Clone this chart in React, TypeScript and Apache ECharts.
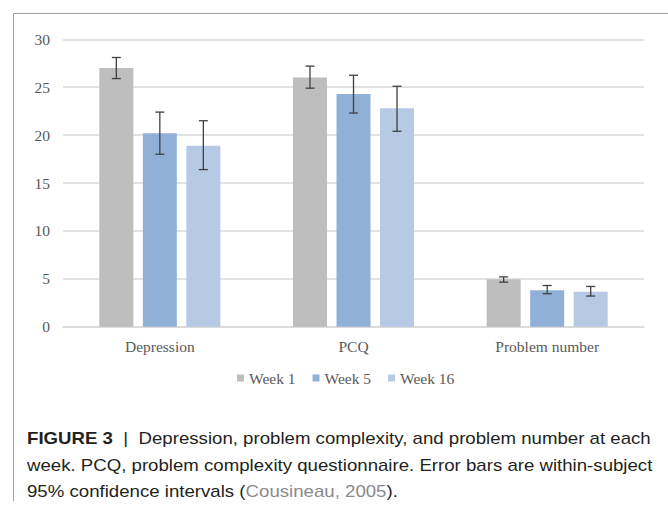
import React, { useEffect, useRef } from "react";
import * as echarts from "echarts";

const categories = ["Depression", "PCQ", "Problem number"];
const seriesNames = ["Week 1", "Week 5", "Week 16"];
const week1 = [27.0, 26.0, 4.95];
const week5 = [20.2, 24.3, 3.8];
const week16 = [18.9, 22.8, 3.65];
const week1Low = [25.9, 24.9, 4.65];
const week1High = [28.1, 27.2, 5.2];
const week5Low = [18.0, 22.3, 3.45];
const week5High = [22.4, 26.25, 4.3];
const week16Low = [16.4, 20.4, 3.2];
const week16High = [21.5, 25.1, 4.2];
const yTicks = { min: 0, max: 30, interval: 5 };

const colors = ["#bebebe", "#91b0d8", "#b6cae5"];
const BAR_CAT_GAP = 0.375;
const BAR_GAP = 0.28;

export default function App() {
  const ref = useRef<HTMLDivElement>(null);
  useEffect(() => {
    if (!ref.current) return;
    const chart = echarts.init(ref.current, null, { renderer: "svg" });
    const values = [week1, week5, week16];
    const lows = [week1Low, week5Low, week16Low];
    const highs = [week1High, week5High, week16High];
    const errData: number[][] = [];
    for (let s = 0; s < 3; s++) {
      for (let c = 0; c < categories.length; c++) {
        errData.push([c, s, lows[s][c], highs[s][c]]);
      }
    }
    const serif = "'Liberation Serif', 'Times New Roman', serif";
    const sans = "'Liberation Sans', Arial, sans-serif";
    const capScale = 1.165;
    chart.setOption({
      animation: false,
      backgroundColor: "#ffffff",
      grid: { left: 63, right: 24, top: 39.3, bottom: 178.3, containLabel: false },
      legend: {
        data: seriesNames,
        left: 232,
        top: 365,
        itemWidth: 7,
        itemHeight: 7,
        itemGap: 17,
        icon: "rect",
        textStyle: { fontFamily: serif, fontSize: 15.5, color: "#595959" },
      },
      xAxis: {
        type: "category",
        data: categories,
        axisLine: { lineStyle: { color: "#d9d9d9", width: 1.5 } },
        axisTick: { show: false },
        axisLabel: { fontFamily: serif, fontSize: 15.5, color: "#595959", margin: 12 },
      },
      yAxis: {
        type: "value",
        min: yTicks.min,
        max: yTicks.max,
        interval: yTicks.interval,
        axisLine: { show: false },
        axisTick: { show: false },
        axisLabel: { fontFamily: serif, fontSize: 15.5, color: "#595959", margin: 13 },
        splitLine: { lineStyle: { color: "#d9d9d9", width: 1.5 } },
      },
      series: [
        ...seriesNames.map((n, i) => ({
          name: n,
          type: "bar",
          data: values[i],
          itemStyle: { color: colors[i] },
          barGap: BAR_GAP * 100 + "%",
          barCategoryGap: BAR_CAT_GAP * 100 + "%",
        })),
        {
          type: "custom",
          name: "err",
          data: errData,
          z: 10,
          renderItem: (params: any, api: any) => {
            const c = api.value(0);
            const s = api.value(1);
            const lo = api.value(2);
            const hi = api.value(3);
            const band = api.size([1, 0])[0];
            const bw = (band * (1 - BAR_CAT_GAP)) / (3 + 2 * BAR_GAP);
            const off = (s - 1) * bw * (1 + BAR_GAP);
            const pLo = api.coord([c, lo]);
            const pHi = api.coord([c, hi]);
            const x = pLo[0] + off;
            const cap = 4.5;
            const style = { stroke: "#404040", lineWidth: 1.3 };
            return {
              type: "group",
              children: [
                { type: "line", shape: { x1: x, y1: pLo[1], x2: x, y2: pHi[1] }, style },
                { type: "line", shape: { x1: x - cap, y1: pLo[1], x2: x + cap, y2: pLo[1] }, style },
                { type: "line", shape: { x1: x - cap, y1: pHi[1], x2: x + cap, y2: pHi[1] }, style },
              ],
            };
          },
        },
      ],
      graphic: [
        { type: "line", shape: { x1: 13.5, y1: 13.5, x2: 668, y2: 13.5 }, style: { stroke: "#a0a0a0", lineWidth: 1 } },
        { type: "line", shape: { x1: 13.5, y1: 13.5, x2: 13.5, y2: 501 }, style: { stroke: "#a0a0a0", lineWidth: 1 } },
        {
          type: "text",
          x: 27,
          y: 438.5,
          scaleX: capScale,
          style: {
            text: "{b|FIGURE 3}{p|  |  }{n|Depression, problem complexity, and problem number at each}",
            verticalAlign: "middle",
            rich: {
              b: { fontFamily: sans, fontWeight: "bold", fontSize: 16, fill: "#231f20" },
              p: { fontFamily: sans, fontSize: 16, fill: "#231f20" },
              n: { fontFamily: sans, fontSize: 16, fill: "#231f20" },
            },
          },
        },
        {
          type: "text",
          x: 27,
          y: 465,
          scaleX: capScale,
          style: {
            text: "week. PCQ, problem complexity questionnaire. Error bars are within-subject",
            verticalAlign: "middle",
            fontFamily: sans,
            fontSize: 16,
            fill: "#231f20",
          },
        },
        {
          type: "text",
          x: 27,
          y: 491.5,
          scaleX: capScale,
          style: {
            text: "{n|95% confidence intervals (}{g|Cousineau, 2005}{n|).}",
            verticalAlign: "middle",
            rich: {
              n: { fontFamily: sans, fontSize: 16, fill: "#231f20" },
              g: { fontFamily: sans, fontSize: 16, fill: "#8a8a8a" },
            },
          },
        },
      ],
    });
    return () => chart.dispose();
  }, []);
  return (
    <div
      ref={ref}
      style={{ position: "fixed", left: 0, top: 0, width: 668, height: 505 }}
    />
  );
}
